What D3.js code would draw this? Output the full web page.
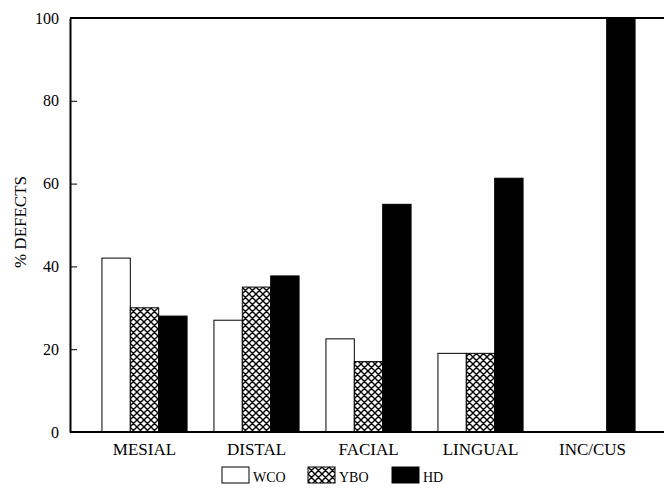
<!DOCTYPE html>
<html><head><meta charset="utf-8">
<script src="https://cdn.jsdelivr.net/npm/d3@7/dist/d3.min.js"></script>
<style>
html,body{margin:0;padding:0;background:#fff;}
svg text{font-family:"Liberation Serif","DejaVu Serif","Times New Roman",serif;fill:#000;}
</style></head>
<body><svg id="chart" width="664" height="489"></svg>
<script>
const categories = ["MESIAL", "DISTAL", "FACIAL", "LINGUAL", "INC/CUS"];
const seriesNames = ["WCO", "YBO", "HD"];
const wco = [42, 27, 22.5, 19, 0];
const ybo = [30, 35, 17, 19, 0];
const hd  = [28, 37.7, 55, 61.3, 100];
const yTicks = [0, 20, 40, 60, 80, 100];
const seriesValues = [wco, ybo, hd];

const svg = d3.select("#chart");
const mLeft = 70, mRight = 664, mTop = 18, mBottom = 432;

const defs = svg.append("defs");
const pat = defs.append("pattern").attr("id", "hatch")
  .attr("patternUnits", "userSpaceOnUse").attr("width", 7).attr("height", 7);
pat.append("rect").attr("width", 7).attr("height", 7).attr("fill", "#fff");
pat.append("path").attr("d", "M-1,1 L1,-1 M0,7 L7,0 M6,8 L8,6 M-1,6 L1,8 M0,0 L7,7 M6,-1 L8,1")
  .attr("stroke", "#000").attr("stroke-width", 1.4);

const fills = ["#fff", "url(#hatch)", "#000"];

const x0 = d3.scaleBand().domain(categories).range([88.5, 648.5])
  .paddingInner(0.24).paddingOuter(0.12);
const x1 = d3.scaleBand().domain(seriesNames).range([0, x0.bandwidth()]);
const y = d3.scaleLinear().domain([0, 100]).range([mBottom, mTop]);

const data = categories.map((c, i) => ({cat: c, vals: seriesNames.map((s, j) => ({s, j, v: seriesValues[j][i]}))}));

const g = svg.append("g");
g.selectAll("g.grp").data(data).join("g").attr("class", "grp")
  .attr("transform", d => `translate(${x0(d.cat)},0)`)
  .selectAll("rect").data(d => d.vals.filter(v => v.v > 0)).join("rect")
  .attr("x", d => x1(d.s)).attr("width", x1.bandwidth())
  .attr("y", d => y(d.v)).attr("height", d => y(0) - y(d.v))
  .attr("fill", d => fills[d.j]).attr("stroke", "#000").attr("stroke-width", 1);

// Y axis
const yAxis = d3.axisLeft(y).tickValues(yTicks).tickSizeInner(-7).tickSizeOuter(0).tickPadding(11);
const ya = svg.append("g").attr("transform", `translate(${mLeft},0)`).call(yAxis);
ya.attr("font-family", null);
ya.select(".domain").attr("stroke-width", 2);
ya.selectAll(".tick line").attr("stroke-width", 1);
ya.selectAll("text").attr("font-size", 16);

// X axis
const xa = svg.append("g").attr("transform", `translate(0,${mBottom})`)
  .call(d3.axisBottom(x0).tickSize(0).tickPadding(11));
xa.attr("font-family", null);
xa.select(".domain").remove();
xa.selectAll("text").attr("font-size", 17);
svg.append("line").attr("x1", mLeft).attr("x2", mRight).attr("y1", mBottom).attr("y2", mBottom)
  .attr("stroke", "#000").attr("stroke-width", 2);
svg.append("line").attr("x1", mLeft).attr("x2", mRight).attr("y1", mTop).attr("y2", mTop)
  .attr("stroke", "#000").attr("stroke-width", 2);

// Y title
svg.append("text").attr("transform", "translate(26,222) rotate(-90)")
  .attr("text-anchor", "middle").attr("font-size", 17).text("% DEFECTS");

// Legend
const legX = [222, 308, 392];
const lg = svg.append("g").selectAll("g").data(seriesNames).join("g")
  .attr("transform", (d, i) => `translate(${legX[i]},467)`);
lg.append("rect").attr("width", 27).attr("height", 16)
  .attr("fill", (d, i) => fills[i]).attr("stroke", "#000").attr("stroke-width", 1);
lg.append("text").attr("x", 31).attr("y", 15).attr("font-size", 14).text(d => d);
</script></body></html>
